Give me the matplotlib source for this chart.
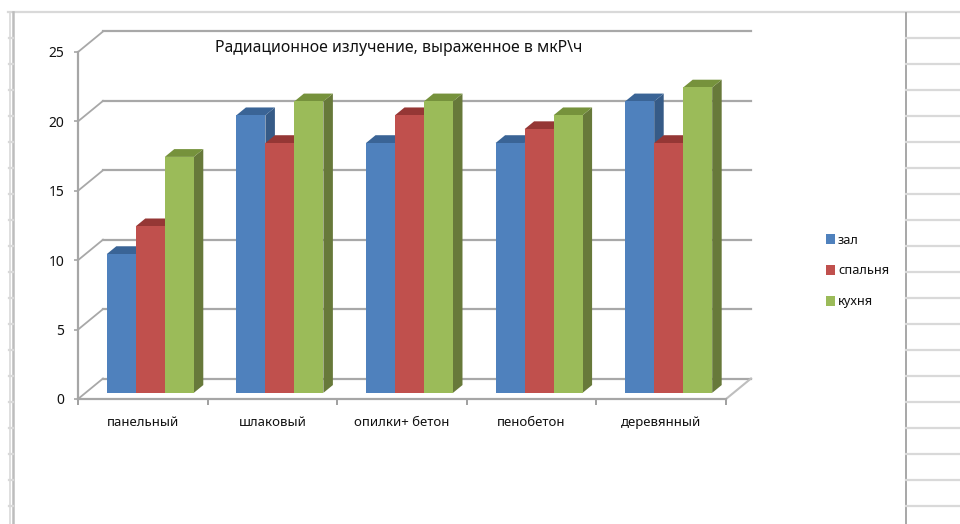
import matplotlib
matplotlib.use("Agg")
import matplotlib.pyplot as plt
from matplotlib.lines import Line2D
from matplotlib.patches import Patch

plt.rcParams['font.family'] = ['Noto Sans', 'DejaVu Sans']

# данные: радиационное излучение по типам домов и комнатам
categories = ['панельный', 'шлаковый', 'опилки+ бетон', 'пенобетон', 'деревянный']
series_names = ['зал', 'спальня', 'кухня']
zal = [10, 20, 18, 18, 21]
spalnya = [12, 18, 20, 19, 18]
kuhnya = [17, 21, 21, 20, 22]
y_ticks = [0, 5, 10, 15, 20, 25]
title = 'Радиационное излучение, выраженное в мкР\\ч'

front_colors = ['#4F81BD', '#C0504D', '#9BBB59']
side_colors = ['#365B87', '#8A3634', '#67793A']
top_colors = ['#3A6496', '#953735', '#76923C']

W, H = 960, 524
fig = plt.figure(figsize=(W / 100, H / 100), dpi=100)

# оси совпадают с передней плоскостью псевдо-3D диаграммы
left, right, top, bottom = 78, 726, 52, 399
ax = fig.add_axes([left / W, 1 - bottom / H, (right - left) / W, (bottom - top) / H])
ax.set_xlim(0, len(categories))
ax.set_ylim(0, 25)
ax.patch.set_alpha(0)

x_per_px = len(categories) / (right - left)
y_per_px = 25 / (bottom - top)
depth_x = 25 * x_per_px  # сдвиг задней стенки
depth_y = 20.5 * y_per_px


def project(x, v, d):
    return x + d * depth_x, v + d * depth_y


# линии листа Excel за диаграммой
def sheet_line(x0, y0, x1, y1, color='#D9D9D9', lw=1.6):
    fig.add_artist(Line2D([x0 / W, x1 / W], [1 - y0 / H, 1 - y1 / H], color=color, lw=lw))


sheet_line(8, 12, 960, 12)
sheet_line(9.5, 12, 9.5, 524, lw=1.2)
sheet_line(13, 12, 13, 524, color='#BDBDBD', lw=1.8)
sheet_line(906, 13, 906, 524, color='#A0A0A0', lw=1.3)
for row in range(19):
    sheet_line(906, 38 + 26 * row, 960, 38 + 26 * row)
    sheet_line(9, 38 + 26 * row, 13, 38 + 26 * row)

# сетка на задней стенке и боковой стенке
grid_color = '#A8A8A8'
for v in y_ticks:
    x0, y0 = project(0, v, 1)
    x1, y1 = project(len(categories), v, 1)
    ax.plot([0, x0], [v, y0], color=grid_color, lw=1.3, clip_on=False, zorder=1)
    ax.plot([x0, x1], [y0, y1], color=grid_color, lw=1.6, clip_on=False, zorder=1)
x1, y1 = project(len(categories), 0, 1)
ax.plot([len(categories), x1], [0, y1], color='#BEBEBE', lw=1.5, clip_on=False, zorder=1)

# столбцы: передняя грань, верх и правая боковая грань
bar_w = 0.2237
gap = (1 - 3 * bar_w) / 2
d_front, d_back = 0.3, 0.68
values = [zal, spalnya, kuhnya]
for s, vals in enumerate(values):
    z = 3 + s
    for i, v in enumerate(vals):
        x_l, base = project(i + gap + s * bar_w, 0, d_front)
        x_r = x_l + bar_w
        ax.bar(x_l, v, bar_w, bottom=base, align='edge', color=front_colors[s], zorder=z + 0.5,
               clip_on=False, linewidth=0)
        dx = (d_back - d_front) * depth_x
        dy = (d_back - d_front) * depth_y
        ax.fill([x_r, x_r + dx, x_r + dx, x_r], [base, base + dy, base + v + dy, base + v],
                color=side_colors[s], lw=0, zorder=z, clip_on=False)
        ax.fill([x_l, x_l + dx, x_r + dx, x_r], [base + v, base + v + dy, base + v + dy, base + v],
                color=top_colors[s], lw=0, zorder=z, clip_on=False)

# оси и подписи
for name in ['top', 'right']:
    ax.spines[name].set_visible(False)
for name in ['left', 'bottom']:
    ax.spines[name].set_color('#A6A6A6')
    ax.spines[name].set_linewidth(1.6)
ax.set_yticks(y_ticks)
ax.set_xticks(range(len(categories) + 1))
ax.set_xticklabels([])
ax.set_xticks([i + 0.5 for i in range(len(categories))], categories, minor=True)
ax.tick_params(axis='y', length=3, width=1.2, color='#A6A6A6', labelsize=10, pad=7, labelcolor='#111111')
ax.tick_params(axis='x', which='major', length=4, width=1.2, color='#909090')
ax.tick_params(axis='x', which='minor', length=0, pad=12, labelsize=9.5, labelcolor='#111111')

fig.text(399 / W, 1 - 48 / H, title, ha='center', va='center', fontsize=11.4, color='#111111')

handles = [Patch(facecolor=c, label=n, linewidth=0) for c, n in zip(front_colors, series_names)]
fig.legend(handles=handles, loc='center left', bbox_to_anchor=(826 / W, 1 - 271 / H), frameon=False,
           fontsize=9.2, handlelength=0.74, handleheight=0.78, handletextpad=0.2, labelspacing=1.4,
           labelcolor='#111111', borderaxespad=0, borderpad=0)

fig.savefig('out.png', dpi=100)
